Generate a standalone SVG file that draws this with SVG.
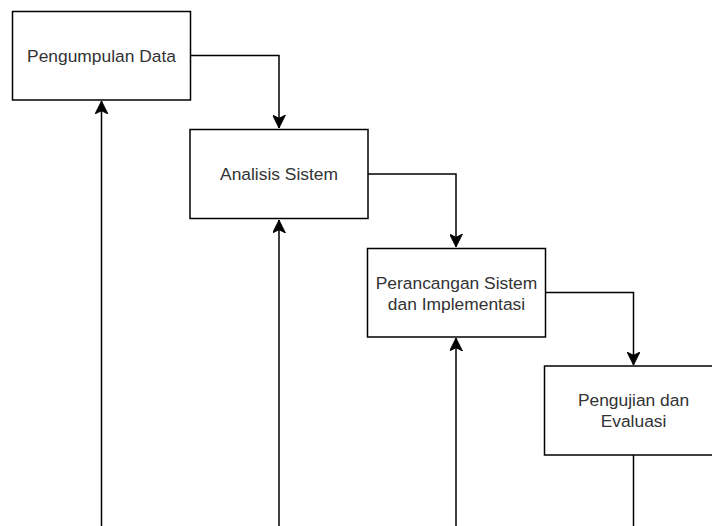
<svg xmlns="http://www.w3.org/2000/svg" width="712" height="526" viewBox="0 0 712 526">
  <defs>
    <style>
      .box { fill: #ffffff; stroke: #000000; stroke-width: 1.5; }
      .lbl { font-family: "Liberation Sans", Arial, sans-serif; font-size: 17.4px; fill: #333333; text-anchor: middle; dominant-baseline: central; }
      .conn { fill: none; stroke: #000000; stroke-width: 1.5; }
    </style>
    <marker id="arr" markerUnits="userSpaceOnUse" markerWidth="13" markerHeight="13" viewBox="0 0 12 12" refX="12" refY="6" orient="auto">
      <path d="M12,6 L0,0 L3,6 L0,12 Z" fill="#000000" stroke="#000000" stroke-width="0.8" stroke-linejoin="miter"/>
    </marker>
  </defs>
  <rect width="712" height="526" fill="#ffffff"/>

  <g id="connectors">
    <path class="conn" d="M190,55.5 H279 V128" marker-end="url(#arr)"/>
    <path class="conn" d="M368,174 H456 V247" marker-end="url(#arr)"/>
    <path class="conn" d="M545,292.5 H633.5 V365" marker-end="url(#arr)"/>
    <path class="conn" d="M633.5,455 V526"/>
    <path class="conn" d="M101.5,526 V101" marker-end="url(#arr)"/>
    <path class="conn" d="M279,526 V220" marker-end="url(#arr)"/>
    <path class="conn" d="M456,526 V338" marker-end="url(#arr)"/>
  </g>

  <g id="pengumpulan-data">
    <rect class="box" x="12.5" y="11.5" width="178" height="88.5"/>
    <text class="lbl" x="101.5" y="55.5">Pengumpulan Data</text>
  </g>
  <g id="analisis-sistem">
    <rect class="box" x="190" y="129.5" width="178" height="89"/>
    <text class="lbl" x="279" y="174">Analisis Sistem</text>
  </g>
  <g id="perancangan">
    <rect class="box" x="367.5" y="248.5" width="178" height="88.5"/>
    <text class="lbl" x="456.5" y="282.5">Perancangan Sistem</text>
    <text class="lbl" x="456.5" y="303.5">dan Implementasi</text>
  </g>
  <g id="pengujian">
    <rect class="box" x="544.5" y="366" width="178" height="89"/>
    <text class="lbl" x="633.5" y="399.5">Pengujian dan</text>
    <text class="lbl" x="633.5" y="421">Evaluasi</text>
  </g>
</svg>
